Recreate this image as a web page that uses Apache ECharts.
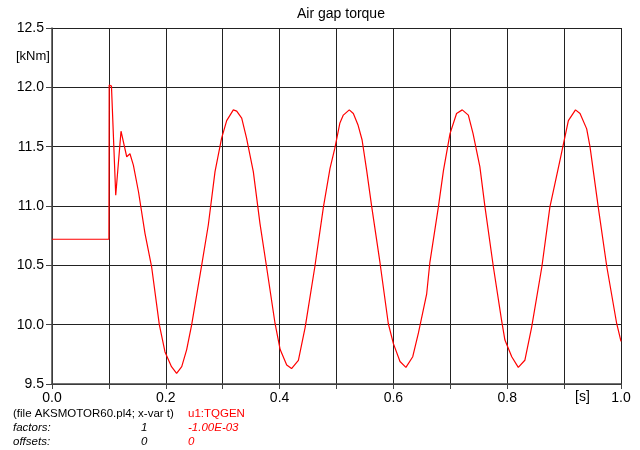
<!DOCTYPE html>
<html>
<head>
<meta charset="utf-8">
<script src="https://cdn.jsdelivr.net/npm/echarts@6/dist/echarts.min.js"></script>
<style>
	html, body { margin: 0; padding: 0; background: #fff; }
	#main { width: 640px; height: 450px; }
</style>
</head>
<body>
<div id="main"></div>
<script>
//时间 [s]
var timeVals = [0, 0.1, 0.1005, 0.1045, 0.112, 0.1213, 0.1313, 0.137, 0.143, 0.152,
	0.1634, 0.175, 0.1886, 0.1986, 0.210, 0.219, 0.228, 0.2367, 0.2455, 0.263,
	0.2747, 0.2865, 0.298, 0.307, 0.3187, 0.3246, 0.3334, 0.342, 0.3538, 0.3656,
	0.377, 0.392, 0.401, 0.4125, 0.421, 0.433, 0.445, 0.462, 0.477, 0.4886,
	0.497, 0.506, 0.512, 0.5225, 0.5296, 0.538, 0.545, 0.553, 0.562, 0.5765,
	0.591, 0.600, 0.6116, 0.622, 0.634, 0.644, 0.6585, 0.664, 0.679, 0.688,
	0.6995, 0.711, 0.721, 0.7317, 0.740, 0.752, 0.761, 0.7756, 0.790, 0.796,
	0.808, 0.8195, 0.831, 0.843, 0.861, 0.875, 0.893, 0.9075, 0.920, 0.928,
	0.9397, 0.9455, 0.960, 0.975, 0.9924, 1.0];
//气隙转矩 [kNm]
var torqueVals = [10.72, 10.72, 12.02, 12.01, 11.09, 11.63, 11.415, 11.44, 11.345, 11.12,
	10.77, 10.49, 10.0, 9.77, 9.646, 9.59, 9.646, 9.79, 10.0, 10.50,
	10.84, 11.29, 11.57, 11.72, 11.81, 11.80, 11.74, 11.57, 11.29, 10.85,
	10.49, 10.01, 9.79, 9.66, 9.63, 9.70, 9.98, 10.49, 10.99, 11.317,
	11.485, 11.70, 11.766, 11.81, 11.78, 11.68, 11.556, 11.30, 10.99, 10.52,
	10.01, 9.84, 9.69, 9.64, 9.73, 9.93, 10.26, 10.52, 10.99, 11.30,
	11.61, 11.78, 11.81, 11.766, 11.61, 11.33, 10.99, 10.49, 10.04, 9.87,
	9.73, 9.64, 9.70, 9.98, 10.49, 10.99, 11.39, 11.72, 11.81, 11.78,
	11.65, 11.50, 10.99, 10.49, 10.01, 9.86];

var yTicks = [9.5, 10.0, 10.5, 11.0, 11.5, 12.0, 12.5];
var xTicks = [0, 0.2, 0.4, 0.6, 0.8, 1.0];

var font = '"Liberation Sans", Arial, sans-serif';

var seriesData = timeVals.map(function(t, i) { return [t, torqueVals[i]]; });

var chart = echarts.init(document.getElementById('main'));

var option = {
	animation: false,
	backgroundColor: '#fff',
	grid: { left: 52, right: 19, top: 28, bottom: 66 },
	xAxis: {
		type: 'value',
		min: 0,
		max: 1,
		interval: 0.1,
		axisLine: { show: true, lineStyle: { color: '#444', width: 1.5 } },
		axisTick: { show: true, length: 5, lineStyle: { color: '#444' } },
		axisLabel: {
			color: '#000',
			fontFamily: font,
			fontSize: 14,
			margin: 7,
			formatter: function(v) {
				var hit = xTicks.some(function(x) { return Math.abs(x - v) < 1e-6; });
				return hit ? v.toFixed(1) : '';
			}
		},
		splitLine: { show: true, lineStyle: { color: '#222', width: 1 } }
	},
	yAxis: {
		type: 'value',
		min: yTicks[0],
		max: yTicks[yTicks.length - 1],
		interval: 0.5,
		axisLine: { show: true, lineStyle: { color: '#444', width: 1.5 } },
		axisTick: { show: true, length: 6, lineStyle: { color: '#444' } },
		axisLabel: {
			color: '#000',
			fontFamily: font,
			fontSize: 14,
			margin: 8,
			formatter: function(v) { return v.toFixed(1); }
		},
		splitLine: { show: true, lineStyle: { color: '#222', width: 1 } }
	},
	graphic: [
		{ type: 'text', left: 297, top: 7, style: { text: 'Air gap torque', fill: '#000', font: '14px ' + font } },
		{ type: 'text', left: 16, top: 50, style: { text: '[kNm]', fill: '#000', font: '13px ' + font } },
		{ type: 'text', left: 575, top: 390, style: { text: '[s]', fill: '#000', font: '14px ' + font } },
		{ type: 'text', left: 13, top: 408, style: { text: '(file AKSMOTOR60.pl4; x-var t)', fill: '#000', font: '11.5px ' + font } },
		{ type: 'text', left: 188, top: 408, style: { text: 'u1:TQGEN', fill: '#ff0000', font: '11.5px ' + font } },
		{ type: 'text', left: 13, top: 422, style: { text: 'factors:', fill: '#000', font: 'italic 11.5px ' + font } },
		{ type: 'text', left: 141, top: 422, style: { text: '1', fill: '#000', font: 'italic 11.5px ' + font } },
		{ type: 'text', left: 188, top: 422, style: { text: '-1.00E-03', fill: '#ff0000', font: 'italic 11.5px ' + font } },
		{ type: 'text', left: 13, top: 436, style: { text: 'offsets:', fill: '#000', font: 'italic 11.5px ' + font } },
		{ type: 'text', left: 141, top: 436, style: { text: '0', fill: '#000', font: 'italic 11.5px ' + font } },
		{ type: 'text', left: 188, top: 436, style: { text: '0', fill: '#ff0000', font: 'italic 11.5px ' + font } }
	],
	series: [{
		name: 'u1:TQGEN',
		type: 'line',
		data: seriesData,
		showSymbol: false,
		smooth: false,
		lineStyle: { color: '#ff0000', width: 1.2 }
	}]
};

chart.setOption(option);
</script>
</body>
</html>
